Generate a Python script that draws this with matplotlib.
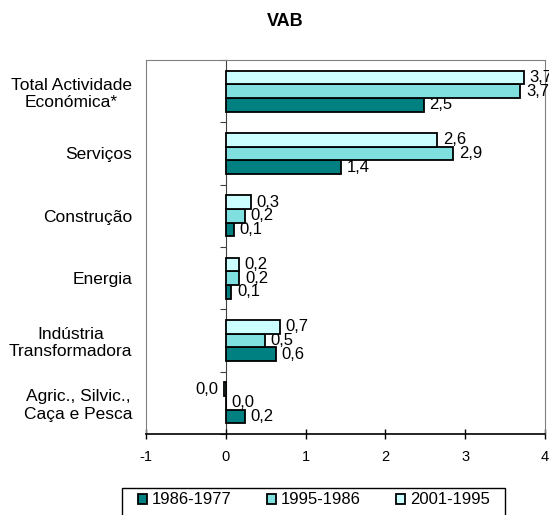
import matplotlib.pyplot as plt
from matplotlib.patches import Rectangle
import numpy as np

plt.rcParams['font.family'] = ['Liberation Sans', 'DejaVu Sans']
plt.rcParams['axes.unicode_minus'] = False

# Categories listed bottom to top
categories = ['Agric., Silvic.,\nCaça e Pesca', 'Indústria\nTransformadora', 'Energia',
              'Construção', 'Serviços', 'Total Actividade\nEconómica*']
periods = ['1986-1977', '1995-1986', '2001-1995']
v_1986_1977 = [0.24, 0.63, 0.07, 0.10, 1.44, 2.48]
v_1995_1986 = [0.0, 0.49, 0.17, 0.24, 2.85, 3.69]
v_2001_1995 = [-0.02, 0.68, 0.16, 0.31, 2.65, 3.74]
colors = ['#008080', '#80E0E0', '#CCFFFF']

fig = plt.figure(figsize=(5.49, 5.15), dpi=100)
ax = fig.add_axes([146 / 549, 1 - 434 / 515, 399 / 549, 374 / 515])

y = np.arange(len(categories))
h = 0.22
series = [v_1986_1977, v_1995_1986, v_2001_1995]
offsets = [-h, 0, h]

for vals, off, col, lab in zip(series, offsets, colors, periods):
    bars = ax.barh(y + off, vals, height=h, color=col, edgecolor='black',
                   linewidth=1.3, label=lab, zorder=3)
    texts = [f"{round(v, 1) + 0.0:.1f}".replace('.', ',') for v in vals]
    ax.bar_label(bars, labels=texts, padding=4, fontsize=12, clip_on=False)

ax.set_xlim(-1, 4)
ax.set_ylim(-0.5, len(categories) - 0.5)
ax.set_xticks(range(-1, 5))
ax.tick_params(axis='x', direction='inout', length=7, width=1, pad=8, labelsize=10.5)

ax.set_yticks(y)
ax.set_yticklabels(categories, multialignment='center')
ax.tick_params(axis='y', length=0, pad=10, labelsize=12.5)

for side in ['left', 'top', 'right']:
    ax.spines[side].set_color('#808080')
ax.spines['bottom'].set_color('black')
ax.spines['bottom'].set_linewidth(1.2)

# category axis crossing at zero
loc = (0 - ax.get_xlim()[0]) / (ax.get_xlim()[1] - ax.get_xlim()[0])
sec = ax.secondary_yaxis(loc)
sec.set_yticks(np.arange(-0.5, len(categories), 1))
sec.set_yticklabels([])
sec.tick_params(direction='out', length=4, color='#404040')
sec.spines['left'].set_color('#404040')

fig.text(285 / 549, 1 - 22 / 515, 'VAB', ha='center', va='center',
         fontsize=13, fontweight='bold')

handles, labels = ax.get_legend_handles_labels()
leg = fig.legend(handles, labels, ncol=3, loc='center',
                 bbox_to_anchor=(314 / 549, 1 - 500 / 515), fontsize=12,
                 frameon=False, handlelength=0.55, handleheight=0.55,
                 handletextpad=0.3, columnspacing=2.1, borderpad=0.2)

# legend box (bottom runs past the figure edge as in the original)
fig.patches.append(Rectangle((122 / 549, -0.01), 383 / 549, (515 - 488) / 515 + 0.01,
                             transform=fig.transFigure, fill=False,
                             edgecolor='black', linewidth=1.0))

fig.savefig('out.png', dpi=100)
